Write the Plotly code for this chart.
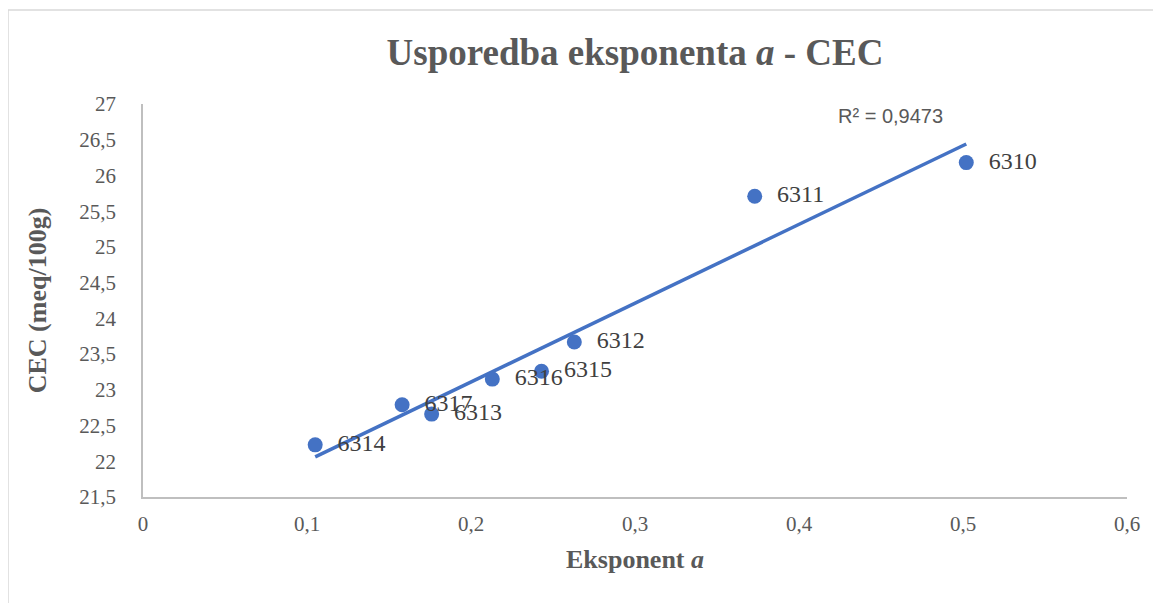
import numpy as np
import plotly.graph_objects as go

# očitane vrijednosti
uzorci = ['6314', '6317', '6313', '6316', '6315', '6312', '6311', '6310']
eksponent_a = [0.105, 0.158, 0.176, 0.213, 0.243, 0.263, 0.373, 0.502]
cec = [22.23, 22.79, 22.66, 23.15, 23.26, 23.67, 25.71, 26.18]
y_ticks = [21.5, 22, 22.5, 23, 23.5, 24, 24.5, 25, 25.5, 26, 26.5, 27]
x_ticks = [0, 0.1, 0.2, 0.3, 0.4, 0.5, 0.6]

SERIF = 'Liberation Serif'
BLUE = '#4472C4'
GREY = '#595959'

# linearni trend
k, b = np.polyfit(eksponent_a, cec, 1)
x_tr = np.array([min(eksponent_a), max(eksponent_a)])
y_tr = k * x_tr + b

fig = go.Figure()
fig.add_trace(go.Scatter(
    x=x_tr, y=y_tr, mode='lines',
    line=dict(color=BLUE, width=3.5),
    hoverinfo='skip',
))
fig.add_trace(go.Scatter(
    x=eksponent_a, y=cec, mode='markers+text',
    text=['\u00a0\u00a0' + u for u in uzorci], textposition='middle right',
    textfont=dict(family=SERIF, size=24, color='#404040'),
    marker=dict(color=BLUE, size=15),
))

fig.add_annotation(
    x=0.4555, y=26.83, text='R² = 0,9473', showarrow=False,
    font=dict(family='Liberation Sans', size=20, color=GREY),
)

# okvir grafikona
fig.add_shape(
    type='rect', xref='paper', yref='paper',
    x0=-0.1372, x1=1.2, y0=-0.3, y1=1.2392,
    line=dict(color='#D9D9D9', width=1.5), layer='below',
)

fig.update_layout(
    width=1161, height=603,
    margin=dict(l=135, r=42, t=96, b=114),
    paper_bgcolor='white', plot_bgcolor='white',
    separators=', ',
    showlegend=False,
    title=dict(
        text='<b>Usporedba eksponenta <i>a</i> - CEC</b>',
        x=0.5, xanchor='center', y=0.927, yanchor='middle',
        xref='paper',
        font=dict(family=SERIF, size=37, color=GREY),
    ),
    font=dict(family=SERIF, color=GREY),
)
fig.update_xaxes(
    range=[0, 0.6], tickvals=x_ticks,
    showgrid=False, zeroline=False,
    showline=True, linecolor='#BFBFBF', linewidth=1.5,
    ticks='', ticklabelstandoff=7,
    tickfont=dict(family=SERIF, size=21, color=GREY),
    title=dict(text='<b>Eksponent <i>a</i></b>', standoff=15,
               font=dict(family=SERIF, size=26, color=GREY)),
)
fig.update_yaxes(
    range=[21.5, 27], tickvals=y_ticks,
    showgrid=False, zeroline=False,
    showline=True, linecolor='#BFBFBF', linewidth=1.5,
    ticks='', ticklabelstandoff=21,
    tickfont=dict(family=SERIF, size=21, color=GREY),
    title=dict(text='<b>CEC (meq/100g)</b>', standoff=25,
               font=dict(family=SERIF, size=26, color=GREY)),
)

fig.write_html('out.html')
